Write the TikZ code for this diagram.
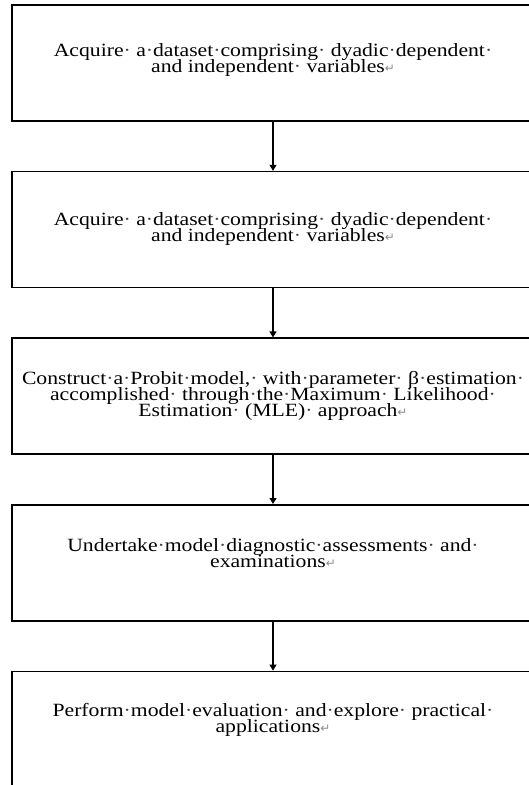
\documentclass[tikz,border=0pt]{standalone}
\usepackage{fontspec}
\setmainfont{Liberation Serif}[FakeStretch=1.16]
\newfontfamily\symfont{DejaVu Sans}
\usetikzlibrary{positioning, arrows.meta}
\tikzset{>={Triangle[length=6pt, width=7pt]}}
\newcommand{\sd}{{\color{black!75}\textperiodcentered}}
\newcommand{\parmark}{{\symfont\fontsize{12}{12}\selectfont\color{black!45}↵}}
\newcommand{\boxfont}{\fontsize{18.7}{16}\selectfont\lineskiplimit=-20pt\relax}
\tikzset{
  stepbox/.style={draw, line width=1.6pt, minimum width=522pt, minimum height=116pt, inner sep=0pt},
  steptext/.style={align=center, inner sep=0pt, font=\boxfont},
  flow/.style={->, line width=1.2pt}
}

\begin{document}
\begin{tikzpicture}[x=1pt, y=-1pt, node distance=49pt]
\useasboundingbox (0,0) rectangle (529,785);
\clip (0,0) rectangle (529,785);
\node[stepbox] (b1) at (273,63) {};
\node[stepbox, below=of b1] (b2) {};
\node[stepbox, below=of b2] (b3) {};
\node[stepbox, below=of b3] (b4) {};
\node[stepbox, below=of b4] (b5) {};
\node[steptext] (t1) at ([yshift=3pt]b1.center) {Acquire\sd\ a\sd dataset\sd comprising\sd\ dyadic\sd dependent\sd\\and independent\sd\ variables\parmark};
\node[steptext] (t2) at ([yshift=1pt]b2.center) {Acquire\sd\ a\sd dataset\sd comprising\sd\ dyadic\sd dependent\sd\\and independent\sd\ variables\parmark};
\node[steptext] (t3) at ([yshift=0pt]b3.center) {Construct\sd a\sd Probit\sd model,\sd\ with\sd parameter\sd\ β\sd estimation\sd\\accomplished\sd\ through\sd the\sd Maximum\sd\ Likelihood\sd\\Estimation\sd\ (MLE)\sd\ approach\parmark};
\node[steptext] (t4) at ([yshift=10pt]b4.center) {Undertake\sd model\sd diagnostic\sd assessments\sd\ and\sd\\examinations\parmark};
\node[steptext] (t5) at ([yshift=10pt]b5.center) {Perform\sd model\sd evaluation\sd\ and\sd explore\sd\ practical\sd\\applications\parmark};
\draw[flow] (b1) -- (b2);
\draw[flow] (b2) -- (b3);
\draw[flow] (b3) -- (b4);
\draw[flow] (b4) -- (b5);
\end{tikzpicture}
\end{document}
